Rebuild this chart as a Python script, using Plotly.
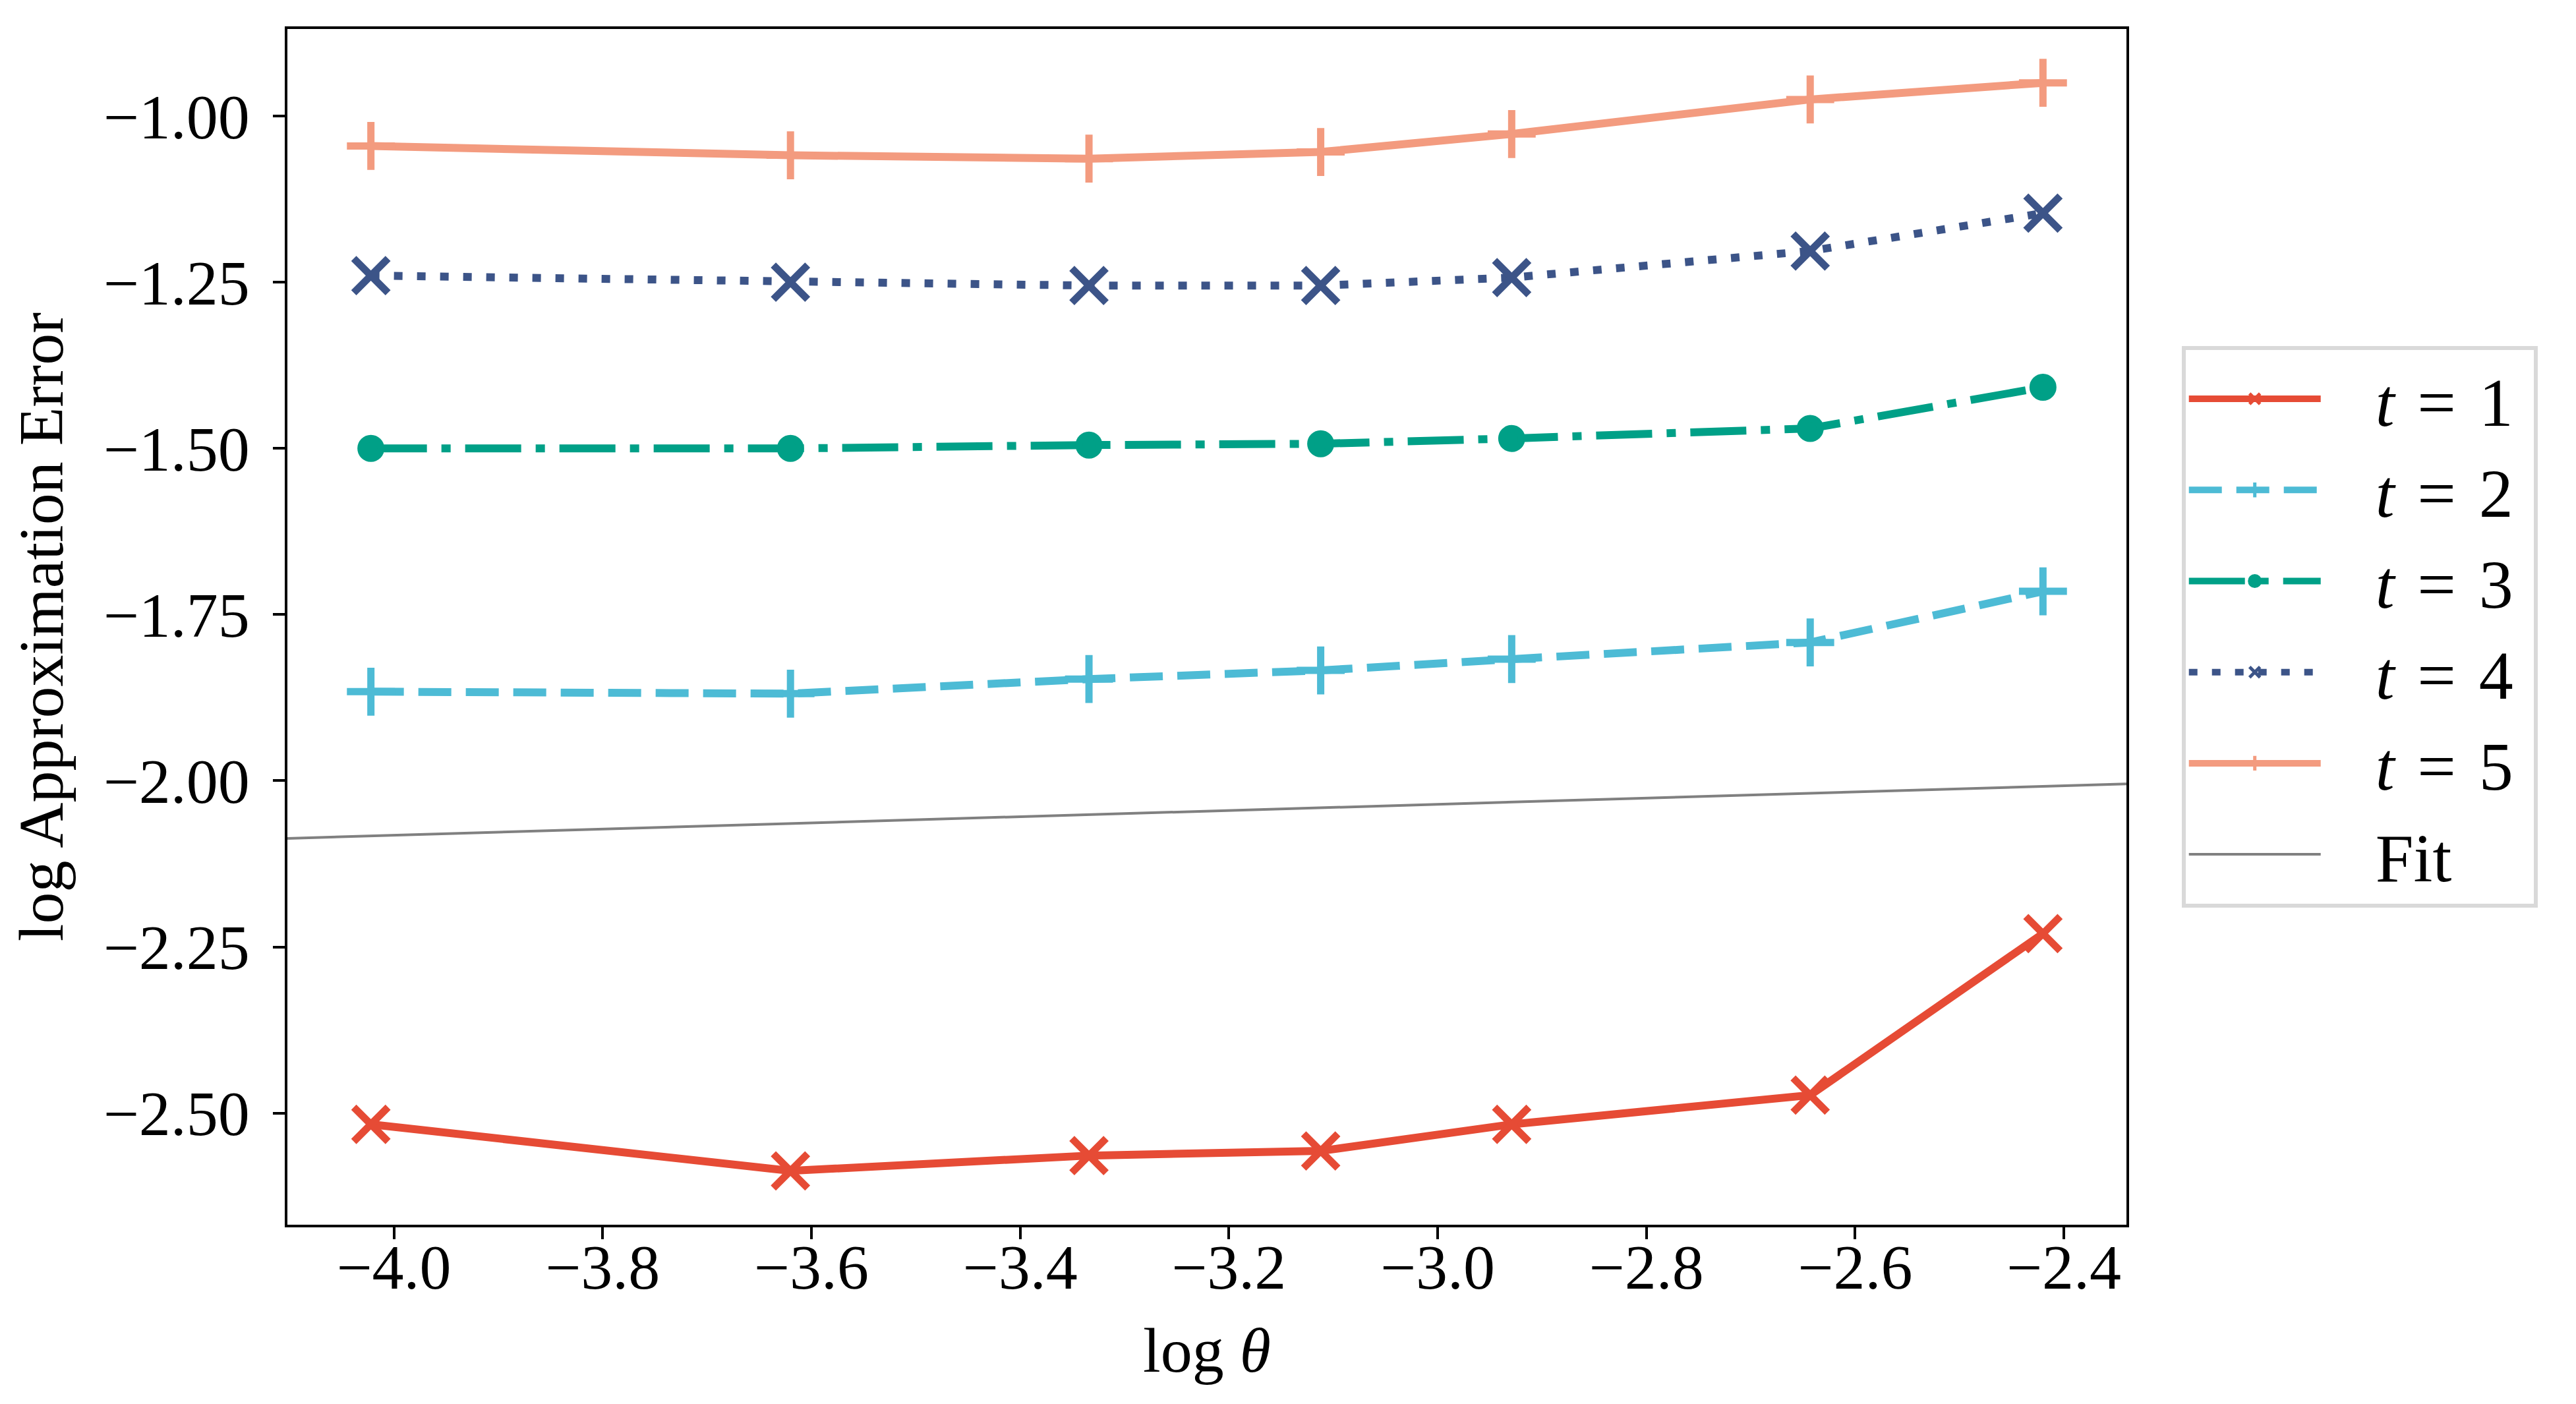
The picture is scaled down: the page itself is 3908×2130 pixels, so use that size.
import numpy as np
import plotly.graph_objects as go

# Werte
log_theta = [-4.022, -3.620, -3.334, -3.112, -2.929, -2.643, -2.420]

err_t1 = [-2.517, -2.587, -2.564, -2.557, -2.517, -2.473, -2.230]
err_t2 = [-1.866, -1.869, -1.847, -1.834, -1.817, -1.792, -1.715]
err_t3 = [-1.500, -1.500, -1.495, -1.493, -1.485, -1.470, -1.408]
err_t4 = [-1.240, -1.250, -1.255, -1.255, -1.243, -1.203, -1.146]
err_t5 = [-1.045, -1.059, -1.064, -1.054, -1.027, -0.975, -0.950]

# Fit-Gerade (Steigung, Achsenabschnitt)
fit_slope = 0.0465
fit_intercept = -1.896

x_range = [-4.102, -2.340]
y_range = [-2.668, -0.869]

font_family = "Liberation Serif"
nb = "\u00a0"
gap = "\u00a0\u200a"

fig = go.Figure()

series = [
    ("1", err_t1, "#E64B35", "solid", "x-thin", 52),
    ("2", err_t2, "#4DBBD5", "50px,22px", "cross-thin", 52),
    ("3", err_t3, "#00A087", "85px,22px,14px,22px", "circle", 30),
    ("4", err_t4, "#3C5488", "13px,22px", "x-thin", 52),
    ("5", err_t5, "#F39B7F", "solid", "cross-thin", 52),
]

for t, vals, color, dash, symbol, size in series:
    fig.add_trace(go.Scatter(
        x=log_theta, y=vals, mode="lines+markers",
        name=nb * 3 + "<i>t</i>" + gap + "=" + gap + t + nb,
        line=dict(color=color, width=12, dash=dash),
        marker=dict(symbol=symbol, size=size, color=color,
                    line=dict(color=color, width=11)),
    ))

# Fit-Linie über den ganzen x-Bereich
x_fit = np.array(x_range)
fig.add_trace(go.Scatter(
    x=x_fit, y=fit_intercept + fit_slope * x_fit, mode="lines",
    name=nb * 3 + "Fit",
    line=dict(color="#808080", width=4),
))

axis_style = dict(
    showline=True, linecolor="black", linewidth=4, mirror=True,
    ticks="outside", ticklen=18, tickwidth=4, tickcolor="black",
    showgrid=False, zeroline=False,
    tickfont=dict(family=font_family, size=96, color="black"),
)

fig.update_layout(
    width=3908, height=2130,
    margin=dict(l=428, r=690, t=36, b=280),
    plot_bgcolor="white", paper_bgcolor="white",
    font=dict(family=font_family, size=96, color="black"),
    xaxis=dict(range=x_range, dtick=0.2, tickformat=".1f", ticklabelstandoff=-40,
               title=dict(text="log <i>θ</i>", font=dict(size=96), standoff=40),
               **axis_style),
    yaxis=dict(range=y_range, dtick=0.25, tick0=-1.0, tickformat=".2f", ticklabelstandoff=16,
               title=dict(text="log Approximation Error", font=dict(size=96), standoff=30),
               **axis_style),
    legend=dict(x=1.03, y=0.5, xanchor="left", yanchor="middle",
                bordercolor="#d9d9d9", borderwidth=6, bgcolor="white",
                font=dict(family=font_family, size=104),
                itemwidth=200, tracegroupgap=0),
    showlegend=True,
)

fig.write_html("out.html")
